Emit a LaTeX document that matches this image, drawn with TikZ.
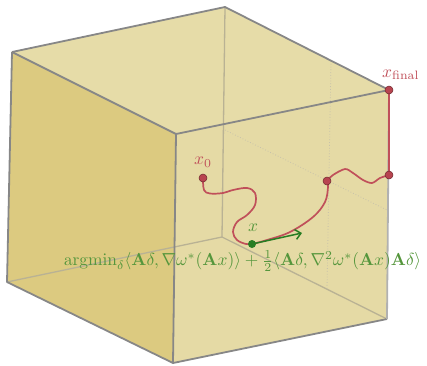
\documentclass[tikz,border=0pt]{standalone}
\usepackage{amsmath}
\usepackage{graphicx}
\usetikzlibrary{arrows.meta}
\definecolor{leftc}{RGB}{220,202,128}
\definecolor{topc}{RGB}{230,220,168}
\definecolor{frontc}{RGB}{229,218,165}
\definecolor{edgec}{RGB}{135,135,135}
\definecolor{hidc}{RGB}{185,178,148}
\definecolor{dotc}{RGB}{200,194,170}
\definecolor{redc}{RGB}{192,80,90}
\definecolor{dotred}{RGB}{184,68,80}
\definecolor{dotredo}{RGB}{110,40,45}
\definecolor{greenc}{RGB}{40,125,35}
\definecolor{greent}{RGB}{85,150,60}
\newcommand{\labscale}[1]{\scalebox{1.74}{#1}}
\begin{document}
\begin{tikzpicture}[x=1pt,y=-1pt,
  visedge/.style={draw=edgec,line width=1.8pt,line join=round},
  hidedge/.style={draw=hidc,line width=1.3pt},
  gridline/.style={draw=dotc,line width=0.8pt,dotted},
  redpath/.style={draw=redc,line width=1.7pt,line cap=round},
  reddot/.style={circle,fill=dotred,draw=dotredo,line width=0.5pt,inner sep=0pt,minimum size=8pt},
  greendot/.style={circle,fill=greenc,inner sep=0pt,minimum size=8pt},
  lbl/.style={inner sep=0pt}]
\useasboundingbox (0,0) rectangle (427,365);
\coordinate (TL) at (12,52);
\coordinate (TB) at (225,7);
\coordinate (TR) at (389,90);
\coordinate (TF) at (176,134);
\coordinate (BL) at (7,282);
\coordinate (BB) at (222,237);
\coordinate (BR) at (387,319);
\coordinate (BF) at (173,363);
% faces
\fill[topc] (TL) -- (TB) -- (TR) -- (TF) -- cycle;
\fill[leftc] (TL) -- (TF) -- (BF) -- (BL) -- cycle;
\fill[frontc] (TF) -- (TR) -- (BR) -- (BF) -- cycle;
% hidden edges
\draw[hidedge] (TB) -- (BB);
\draw[hidedge] (BB) -- (BL);
\draw[hidedge] (BB) -- (BR);
% grid lines
\coordinate (g1) at (225,130);
\coordinate (g2) at (387,210);
\coordinate (g3) at (331,61);
\coordinate (g4) at (327,289);
\draw[gridline] (g1) -- (g2);
\draw[gridline] (g3) -- (g4);
% visible edges
\draw[visedge] (TL) -- (TB) -- (TR);
\draw[visedge] (TL) -- (TF) -- (TR);
\draw[visedge] (TL) -- (BL) -- (BF) -- (TF);
\draw[visedge] (BF) -- (BR);
\draw[draw=edgec!65,line width=1.8pt] (TR) -- (BR);
% points
\coordinate (x0) at (203,178);
\coordinate (gx) at (252,244);
\coordinate (p2) at (327,181);
\coordinate (p3) at (389,175);
\coordinate (xf) at (389,90);
% path
\draw[redpath] plot[smooth,tension=0.6] coordinates {(203,178) (204,190) (210,193.5) (223,193) (233,190) (247,188) (255,193) (255,205) (247,215) (237,222) (233,232) (237,240) (246,244) (252,244)};
\draw[redpath] plot[smooth,tension=0.6] coordinates {(252,244) (267,240) (290,232) (313,217) (325,202) (328,187) (327,181)};
\draw[redpath] plot[smooth,tension=0.5] coordinates {(327,181) (333,175) (345,169) (353,173) (363,180) (372,183) (380,178) (389,175)};
\draw[redpath] (p3) -- (xf);
\node[reddot] (nx0) at (x0) {};
\node[reddot] (np2) at (p2) {};
\node[reddot] (np3) at (p3) {};
\node[reddot] (nxf) at (xf) {};
\node[greendot] (ngx) at (gx) {};
% arrow
\coordinate (gend) at (302,233);
\draw[draw=greenc,line width=1.5pt,-{Straight Barb[length=5.5pt,width=10pt]}] (ngx.center) -- (gend);
% labels
\node[lbl,text=redc] (lx0) at (203,162) {\labscale{$x_0$}};
\node[lbl,text=redc,anchor=west] (lxf) at (382,75) {\labscale{$x_{\text{final}}$}};
\node[lbl,text=greent] (lx) at (253,228) {\labscale{$x$}};
\node[lbl,text=greent] (form) at (242.5,261) {\labscale{$\operatorname{argmin}_\delta\langle \mathbf{A}\delta, \nabla\omega^*(\mathbf{A}x)\rangle + \frac{1}{2}\langle\mathbf{A}\delta, \nabla^2\omega^*(\mathbf{A}x)\mathbf{A}\delta\rangle$}};
\end{tikzpicture}
\end{document}
